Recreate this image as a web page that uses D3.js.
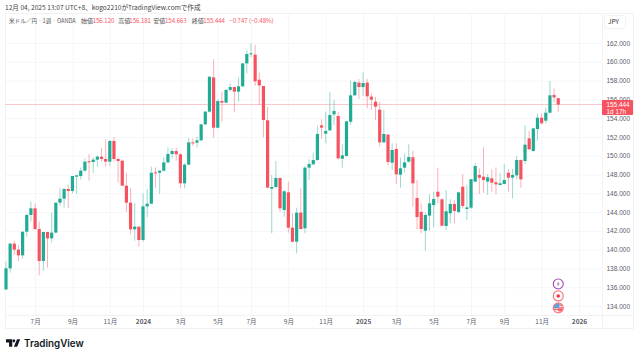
<!DOCTYPE html>
<html>
<head>
<meta charset="utf-8">
<script src="https://cdn.jsdelivr.net/npm/d3@7"></script>
<style>
  html, body { margin: 0; padding: 0; background: #fff; }
  text { font-family: "Noto Sans CJK JP", "Noto Sans", sans-serif; }
</style>
</head>
<body>
<script>
// 1. DATA -------------------------------------------------------
const opens = [135.77,138.01,140.64,140.00,139.39,141.91,143.69,144.40,142.20,138.79,
  141.88,141.20,141.81,145.00,145.43,146.46,146.24,147.77,147.84,148.41,
  149.40,149.33,149.58,149.90,149.65,149.37,151.57,149.65,149.47,146.81,
  145.00,142.16,142.45,141.03,144.61,144.89,148.23,148.19,148.41,149.29,
  150.18,150.50,150.15,147.06,149.05,151.42,151.39,151.64,153.34,154.69,
  158.34,152.98,155.82,155.65,157.00,157.31,156.82,157.39,159.83,160.83,
  160.76,158.09,157.42,153.77,146.49,146.67,147.63,144.22,146.10,142.34,
  140.85,143.94,142.27,148.73,149.08,149.54,153.23,152.35,152.70,154.40,
  154.23,149.68,149.97,153.62,156.43,157.78,157.31,157.78,156.29,155.75,
  154.90,151.42,152.24,149.26,150.71,147.98,148.73,149.37,149.83,145.50,
  144.01,142.02,143.62,144.75,146.17,145.36,142.52,143.87,144.86,144.01,
  146.70,144.33,144.47,147.24,147.95,147.77,147.24,147.59,147.17,146.88,
  146.99,148.19,147.66,147.91,149.54,149.44,151.85,150.50,152.84,154.05,
  153.73,154.58,156.46,156.12]
const highs = [138.72,140.74,140.96,140.49,141.91,143.87,145.11,144.93,142.98,141.88,
  141.88,143.94,145.00,146.53,146.53,146.88,147.84,147.95,148.73,149.72,
  150.18,149.83,150.04,150.79,151.74,151.67,151.96,149.83,149.61,148.12,
  146.60,144.93,142.45,146.00,146.46,148.83,148.76,148.41,149.83,150.89,
  150.78,150.86,150.25,149.19,151.85,151.85,152.03,153.34,154.76,158.41,
  160.26,156.00,156.82,157.10,157.70,157.35,158.34,159.83,161.25,161.96,
  161.79,158.88,157.42,155.22,147.95,149.44,147.70,146.35,147.24,143.87,
  144.47,146.53,148.90,149.61,150.32,153.20,153.87,154.69,156.75,155.93,
  154.69,151.21,153.69,157.99,157.99,158.17,158.88,158.17,156.64,156.29,
  155.75,154.87,152.31,151.32,151.32,149.79,150.18,151.21,150.54,147.41,
  144.93,143.94,145.89,146.17,148.73,145.46,146.35,145.36,145.28,146.17,
  148.05,146.90,147.50,149.20,148.66,150.89,148.05,148.55,148.76,148.12,
  149.08,148.59,148.59,149.97,149.61,153.27,152.67,152.98,154.51,154.51,
  155.11,157.95,157.17,156.181]
const lows = [135.70,137.55,139.43,138.79,139.04,141.38,142.98,142.09,137.26,137.76,
  138.08,140.74,141.74,144.65,144.50,144.43,146.00,145.92,147.48,148.30,
  147.34,148.19,148.83,149.37,148.83,148.94,149.37,147.17,146.81,144.04,
  141.67,140.96,140.32,140.85,143.44,144.89,146.60,145.92,148.30,149.19,
  149.72,149.47,146.53,146.53,149.01,151.03,150.89,151.57,153.27,154.58,
  151.92,152.91,153.62,155.58,156.82,154.62,155.75,157.35,158.77,160.47,
  157.46,155.40,151.96,146.53,141.74,146.53,144.04,143.51,141.81,140.74,
  139.60,142.16,141.74,147.41,149.01,149.47,151.81,151.32,152.63,153.27,
  149.61,148.73,149.90,153.27,156.36,156.04,156.36,155.04,154.87,153.80,
  150.96,151.39,148.94,148.48,146.99,146.60,148.23,149.26,144.57,142.16,
  141.74,139.89,142.02,142.37,144.93,142.45,142.09,142.80,142.80,143.87,
  144.40,143.15,144.33,147.20,145.92,146.07,145.82,146.17,145.89,146.88,
  146.95,146.17,145.46,147.48,146.60,149.08,150.61,150.43,151.60,153.34,
  153.45,154.51,155.68,154.663]
const closes = [138.01,140.64,140.00,139.39,141.91,143.69,144.40,142.20,138.79,141.88,
  141.20,141.81,145.00,145.43,146.46,146.24,147.84,147.91,148.41,149.37,
  149.29,149.58,149.90,149.65,149.37,151.57,149.65,149.44,146.81,145.00,
  142.16,142.45,141.03,144.61,144.89,148.19,148.19,148.41,149.29,150.18,
  150.50,150.15,147.06,149.05,151.42,151.35,151.64,153.34,154.69,158.41,
  152.98,155.82,155.65,157.00,157.31,156.82,157.39,159.83,160.83,160.90,
  157.92,157.49,153.80,146.60,146.67,147.63,144.40,146.21,142.34,140.85,
  143.94,142.20,148.73,149.12,149.54,152.31,152.99,152.63,154.33,154.76,
  149.72,150.04,153.66,156.43,157.85,157.31,157.74,156.32,155.97,155.22,
  151.42,152.31,149.33,150.61,148.02,148.66,149.29,149.86,147.06,143.47,
  142.20,143.69,144.93,145.39,145.64,142.55,144.08,144.86,144.11,146.10,
  144.65,144.50,147.50,148.90,147.66,147.41,147.70,147.13,146.95,147.06,
  147.41,147.66,147.95,149.54,147.48,151.18,150.68,152.91,154.05,153.45,
  154.58,156.43,156.21,155.444]

const priceTicks = [162,160,158,156,154,152,150,148,146,144,142,140,138,136,134]
const timeTicks = ["2023-07-03","2023-09-04","2023-11-06","2024-01-01","2024-03-04","2024-05-06","2024-07-01","2024-09-02","2024-11-04","2025-01-06","2025-03-03","2025-05-05","2025-07-07","2025-09-01","2025-11-03","2026-01-05"]
const timeLabels = ["7月","9月","11月","2024","3月","5月","7月","9月","11月","2025","3月","5月","7月","9月","11月","2026"]
const weeks = d3.utcMonday.range(new Date("2023-05-15"), new Date("2025-12-02"))
const lastPrice = 155.444

const upColor = "#22ab94"
const downColor = "#f7525f"
const gridColor = "#f5f6f9"
const textColor = "#5a5e6b"

const parseDate = d3.utcParse("%Y-%m-%d")

// 2. DIMENSIONS -------------------------------------------------
const dimensions = {
  width: 640,
  height: 358,
  paneLeft: 5,
  paneRight: 602,
  paneTop: 13,
  paneBottom: 315.5,
  axisBottom: 328,
}

const svg = d3.select("body").append("svg")
  .attr("width", dimensions.width)
  .attr("height", dimensions.height)
  .style("display", "block")

// 3. SCALES -----------------------------------------------------
const yScale = d3.scaleLinear()
  .domain([134, 162])
  .range([306, 43])

const xScale = d3.scaleUtc()
  .domain([parseDate("2023-05-15"), parseDate("2026-01-05")])
  .range([6, 579])

// 4. GRID + AXES ------------------------------------------------
const yGrid = svg.append("g")
  .attr("transform", `translate(${dimensions.paneLeft},0)`)
  .call(d3.axisRight(yScale)
    .tickValues(priceTicks)
    .tickSize(dimensions.paneRight - dimensions.paneLeft)
    .tickFormat(""))
yGrid.select(".domain").remove()
yGrid.selectAll("line").attr("stroke", gridColor)

const xGrid = svg.append("g")
  .attr("transform", `translate(0,${dimensions.paneBottom})`)
  .call(d3.axisTop(xScale)
    .tickValues(timeTicks.map(parseDate))
    .tickSize(dimensions.paneBottom - dimensions.paneTop)
    .tickFormat(""))
xGrid.select(".domain").remove()
xGrid.selectAll("line").attr("stroke", gridColor)

// frame around pane and time axis
const frame = svg.append("g")
  .attr("stroke", "#f0f2f6")
  .attr("fill", "none")
frame.append("rect")
  .attr("x", dimensions.paneLeft + 0.5)
  .attr("y", dimensions.paneTop + 0.5)
  .attr("width", 633 - dimensions.paneLeft)
  .attr("height", dimensions.axisBottom - dimensions.paneTop)
frame.append("line")
  .attr("x1", dimensions.paneLeft)
  .attr("x2", 634)
  .attr("y1", dimensions.paneBottom)
  .attr("y2", dimensions.paneBottom)
frame.append("line")
  .attr("x1", dimensions.paneRight + 0.5)
  .attr("x2", dimensions.paneRight + 0.5)
  .attr("y1", dimensions.paneTop)
  .attr("y2", dimensions.axisBottom)

const yAxis = svg.append("g")
  .attr("transform", `translate(${dimensions.paneRight},0)`)
  .call(d3.axisRight(yScale)
    .tickValues(priceTicks)
    .tickSize(0)
    .tickPadding(4.5)
    .tickFormat(d3.format(".3f")))
yAxis.select(".domain").remove()
yAxis.selectAll("text")
  .attr("fill", textColor)
  .style("font-family", "'Liberation Sans', sans-serif")
  .style("font-size", "6.5px")

const xAxis = svg.append("g")
  .attr("transform", `translate(0,${dimensions.paneBottom})`)
  .call(d3.axisBottom(xScale)
    .tickValues(timeTicks.map(parseDate))
    .tickSize(0)
    .tickPadding(3.5)
    .tickFormat((d, i) => timeLabels[i]))
xAxis.select(".domain").remove()
xAxis.selectAll("text")
  .attr("fill", textColor)
  .style("font-size", "6.5px")
  .style("font-weight", (d, i) => /^\d{4}$/.test(timeLabels[i]) ? 700 : 400)

// 5. CANDLES ----------------------------------------------------
const candles = weeks.map((date, i) => ({
  date,
  open: opens[i],
  high: highs[i],
  low: lows[i],
  close: closes[i],
}))
const candleColor = d => d.close >= d.open ? upColor : downColor

// last price line sits under the candles
const lastY = Math.round(yScale(lastPrice)) - 0.5
svg.append("line")
  .attr("x1", dimensions.paneLeft)
  .attr("x2", dimensions.paneRight)
  .attr("y1", lastY)
  .attr("y2", lastY)
  .attr("stroke", "#fbc9cd")

svg.append("g").selectAll("line")
  .data(candles)
  .join("line")
  .attr("x1", d => xScale(d.date))
  .attr("x2", d => xScale(d.date))
  .attr("y1", d => yScale(d.high))
  .attr("y2", d => yScale(d.low))
  .attr("stroke", candleColor)
  .attr("stroke-opacity", 0.45)
  .attr("stroke-width", 1)

svg.append("g").selectAll("rect")
  .data(candles)
  .join("rect")
  .attr("x", d => xScale(d.date) - 1.6)
  .attr("width", 3.2)
  .attr("y", d => yScale(Math.max(d.open, d.close)))
  .attr("height", d => Math.max(1, Math.abs(yScale(d.open) - yScale(d.close))))
  .attr("fill", candleColor)

// 6. LABELS -----------------------------------------------------
svg.append("text")
  .attr("x", 5)
  .attr("y", 9.5)
  .attr("fill", "#444")
  .style("font-size", "6.6px")
  .text("12月 04, 2025 13:07 UTC+8、kogo2210がTradingView.comで作成")

const legend = svg.append("text")
  .attr("y", 23)
  .style("font-size", "6px")
legend.selectAll("tspan")
  .data([
    ["米ドル／円 · 1週 · OANDA", "#555", 9],
    ["始値", "#555", 81], ["156.120", downColor, 92.7],
    ["高値", "#555", 118.3], ["156.181", downColor, 129.3],
    ["安値", "#555", 153.3], ["154.663", downColor, 165],
    ["終値", "#555", 191.7], ["155.444", downColor, 203.3],
    ["−0.747 (−0.48%)", downColor, 229.3],
  ])
  .join("tspan")
  .attr("x", d => d[2])
  .attr("fill", d => d[1])
  .style("font-size", (d, i) => i === 0 ? "5.6px" : "6px")
  .text(d => d[0])

// currency button
svg.append("rect")
  .attr("x", 604.5)
  .attr("y", 15.5)
  .attr("width", 21)
  .attr("height", 13)
  .attr("rx", 2)
  .attr("fill", "#fff")
  .attr("stroke", "#f1f2f6")
svg.append("text")
  .attr("x", 608)
  .attr("y", 24)
  .attr("fill", "#333")
  .style("font-size", "6.5px")
  .text("JPY")

// last price tag
svg.append("rect")
  .attr("x", dimensions.paneRight)
  .attr("y", 100)
  .attr("width", 31)
  .attr("height", 15)
  .attr("rx", 1)
  .attr("fill", downColor)
svg.append("text")
  .attr("x", 606.5)
  .attr("y", 106.6)
  .attr("fill", "#fff")
  .style("font-family", "'Liberation Sans', sans-serif")
  .style("font-size", "6.4px")
  .text("155.444")
svg.append("text")
  .attr("x", 606.5)
  .attr("y", 113.6)
  .attr("fill", "#fff")
  .style("font-family", "'Liberation Sans', sans-serif")
  .style("font-size", "6.4px")
  .text("1d 17h")

// event icons on the last bar
const lastX = xScale(weeks[weeks.length - 1])
const icons = svg.append("g").attr("transform", `translate(${lastX},0)`)

icons.append("circle")
  .attr("cy", yScale(136.35))
  .attr("r", 5)
  .attr("fill", "#fff")
  .attr("stroke", "#ab47bc")
  .attr("stroke-width", 1.1)
icons.append("path")
  .attr("transform", `translate(0,${yScale(136.35)})`)
  .attr("d", "M1,-3 L-1.6,0.5 L-0.2,0.5 L-1,3 L1.6,-0.5 L0.2,-0.5 Z")
  .attr("fill", "#ba68c8")

icons.append("circle")
  .attr("cy", yScale(135.07))
  .attr("r", 5)
  .attr("fill", "#fff")
  .attr("stroke", "#f77c80")
  .attr("stroke-width", 1.2)
icons.append("circle")
  .attr("cy", yScale(135.07))
  .attr("r", 1.8)
  .attr("fill", "#f23645")

const flagY = yScale(133.8)
svg.append("clipPath")
  .attr("id", "flag-clip")
  .append("circle")
  .attr("r", 5)
  .attr("cy", flagY)
const flag = icons.append("g").attr("clip-path", "url(#flag-clip)")
flag.append("rect")
  .attr("x", -5).attr("y", flagY - 5).attr("width", 10).attr("height", 10)
  .attr("fill", "#fde3e5")
flag.selectAll(".stripe")
  .data([-3.4, -0.6, 2.2])
  .join("rect")
  .attr("class", "stripe")
  .attr("x", 0).attr("width", 5).attr("height", 1.2)
  .attr("y", d => flagY + d)
  .attr("fill", "#f2555f")
flag.append("rect")
  .attr("x", -5).attr("y", flagY + 0.8).attr("width", 10).attr("height", 1.2)
  .attr("fill", "#f2555f")
flag.append("rect")
  .attr("x", -5).attr("y", flagY - 5).attr("width", 6).attr("height", 5.2)
  .attr("fill", "#5aa2e8")
icons.append("circle")
  .attr("cy", flagY)
  .attr("r", 5)
  .attr("fill", "none")
  .attr("stroke", "#f77c80")
  .attr("stroke-width", 1.2)

// TradingView logo
const logo = svg.append("g")
  .attr("transform", "translate(6,339.2) scale(0.96,1.15)")
  .attr("fill", "#131722")
logo.append("path").attr("d", "M0,0 H6.5 V6.5 H3.2 V2.8 H0 Z")
logo.append("circle").attr("cx", 8.2).attr("cy", 1.4).attr("r", 1.4)
logo.append("path").attr("d", "M11.5,0 H14.8 L11.6,6.5 H8.2 Z")
svg.append("text")
  .attr("x", 24)
  .attr("y", 346.8)
  .attr("fill", "#131722")
  .style("font-family", "Inter, 'Noto Sans', sans-serif")
  .style("font-size", "9.8px")
  .style("font-weight", 600)
  .text("TradingView")
</script>
</body>
</html>
